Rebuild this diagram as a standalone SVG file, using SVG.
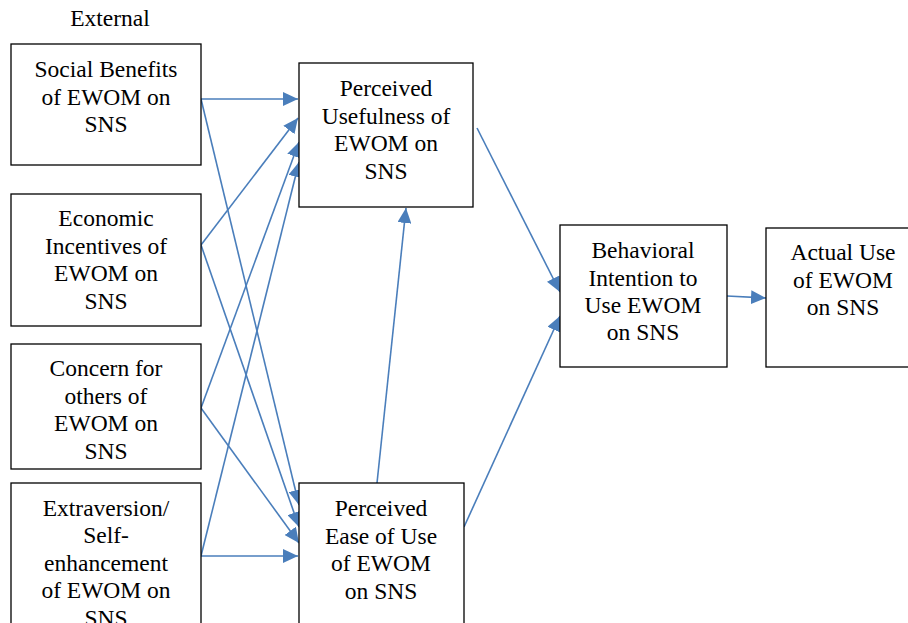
<svg xmlns="http://www.w3.org/2000/svg" width="908" height="623" viewBox="0 0 908 623">
<style>
.box{fill:#fff;stroke:#000;stroke-width:1.3}
.t{font-family:"Liberation Serif","Times New Roman",serif;font-size:23.5px;fill:#000;text-anchor:middle}
.c{stroke:#4a7ebb;stroke-width:1.6;fill:none;marker-end:url(#ah)}
</style>
<defs>
<marker id="ah" markerUnits="userSpaceOnUse" markerWidth="16" markerHeight="14" viewBox="0 0 16 14" refX="15" refY="7" orient="auto">
<path d="M0,0 L15,7 L0,14 Z" fill="#4a7ebb"/>
</marker>
</defs>
<text class="t" x="110" y="26">External</text>
<g id="connectors">
<line class="c" x1="201" y1="99" x2="298" y2="99"/>
<line class="c" x1="201" y1="99" x2="299" y2="505"/>
<line class="c" x1="201" y1="245" x2="298" y2="118"/>
<line class="c" x1="201" y1="245" x2="299" y2="527"/>
<line class="c" x1="201" y1="408" x2="299" y2="142"/>
<line class="c" x1="201" y1="408" x2="299" y2="543"/>
<line class="c" x1="201" y1="556" x2="299" y2="162"/>
<line class="c" x1="201" y1="556" x2="298" y2="556"/>
<line class="c" x1="377" y1="483" x2="406" y2="208"/>
<line class="c" x1="477" y1="128" x2="560" y2="292"/>
<line class="c" x1="464" y1="527" x2="560" y2="316"/>
<line class="c" x1="727" y1="296" x2="766" y2="298"/>
</g>
<g id="social-benefits">
<rect class="box" x="11" y="44" width="190" height="121"/>
<text class="t" x="106" y="77">Social Benefits</text>
<text class="t" x="106" y="104.5">of EWOM on</text>
<text class="t" x="106" y="132">SNS</text>
</g>
<g id="economic-incentives">
<rect class="box" x="11" y="194" width="190" height="132"/>
<text class="t" x="106" y="226">Economic</text>
<text class="t" x="106" y="253.5">Incentives of</text>
<text class="t" x="106" y="281">EWOM on</text>
<text class="t" x="106" y="308.5">SNS</text>
</g>
<g id="concern-for-others">
<rect class="box" x="11" y="344" width="190" height="125"/>
<text class="t" x="106" y="376">Concern for</text>
<text class="t" x="106" y="403.5">others of</text>
<text class="t" x="106" y="431">EWOM on</text>
<text class="t" x="106" y="458.5">SNS</text>
</g>
<g id="extraversion">
<rect class="box" x="11" y="483" width="190" height="150"/>
<text class="t" x="106" y="515.5">Extraversion/</text>
<text class="t" x="106" y="543">Self-</text>
<text class="t" x="106" y="570.5">enhancement</text>
<text class="t" x="106" y="598">of EWOM on</text>
<text class="t" x="106" y="625.5">SNS</text>
</g>
<g id="perceived-usefulness">
<rect class="box" x="299" y="63" width="174" height="144"/>
<text class="t" x="386" y="96">Perceived</text>
<text class="t" x="386" y="123.5">Usefulness of</text>
<text class="t" x="386" y="151">EWOM on</text>
<text class="t" x="386" y="178.5">SNS</text>
</g>
<g id="perceived-ease">
<rect class="box" x="299" y="483" width="165" height="150"/>
<text class="t" x="381" y="516">Perceived</text>
<text class="t" x="381" y="543.5">Ease of Use</text>
<text class="t" x="381" y="571">of EWOM</text>
<text class="t" x="381" y="598.5">on SNS</text>
</g>
<g id="behavioral-intention">
<rect class="box" x="560" y="225" width="167" height="142"/>
<text class="t" x="643" y="258">Behavioral</text>
<text class="t" x="643" y="285.5">Intention to</text>
<text class="t" x="643" y="313">Use EWOM</text>
<text class="t" x="643" y="340">on SNS</text>
</g>
<g id="actual-use">
<rect class="box" x="766" y="228" width="150" height="139"/>
<text class="t" x="843" y="260">Actual Use</text>
<text class="t" x="843" y="287.5">of EWOM</text>
<text class="t" x="843" y="315">on SNS</text>
</g>
</svg>
